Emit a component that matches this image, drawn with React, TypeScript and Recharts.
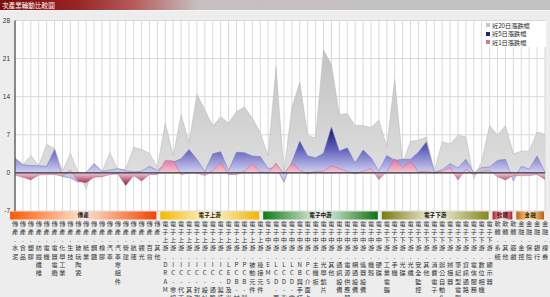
import React from 'react';
import { AreaChart, Area, XAxis, YAxis, CartesianGrid, ReferenceLine } from 'recharts';

// ---------- data ----------
const traditionalSubs = ['水泥','食品','塑膠','紡織纖維','電機','電器電纜','化學工業','生技','玻璃陶瓷','紙業','鋼鐵','橡膠','汽車','汽車零組件','營建','航運','觀光','百貨','其他'];
const upstreamSubs = ['DRAM','IC-零組件','IC-代工','IC-其他','IC-封測','IC-設計','IC-通路','IC-製造','LED及光元件','PCB-材料','PCB-製造','被動元件','連接元件'];
const midstreamSubs = ['EMS','LCD-面板','LCD-背光','LCD-零組件','NB與手持裝置','PC介面卡','主機板','光學鏡片','其他','通訊設備','電源供應器','網通設備','儀器設備','機殼','硬碟'];
const downstreamSubs = ['工業電腦','手機','光碟','光纖','安全監控','其他','消費電子','辦公自動化','掃描器','筆記型電腦','資訊通路','電信服務','數位相機','顯示器'];
const softwareSubs = ['系統','其他','遊戲'];
const financeSubs = ['金控','保險','銀行','證券'];

const groupNames = ['傳產','電子上游','電子中游','電子下游','軟體','金融'];
const groupSubs = [traditionalSubs, upstreamSubs, midstreamSubs, downstreamSubs, softwareSubs, financeSubs];

const change20 = [2.7,1.5,3.2,1.3,5.2,4.5,0.3,3.6,0.0,-2.9,1.7,0.2,3.7,0.6,0.7,4.7,4.3,3.6,1.0,
  9.2,3.1,10.7,5.5,14.4,11.6,8.6,10.3,9.1,11.3,12.1,10.1,7.4,
  3.1,19.4,0.0,12.0,16.6,6.9,6.4,22.6,19.9,10.7,10.9,8.7,8.7,8.3,9.7,
  4.8,17.2,1.8,5.8,6.0,6.6,0.3,5.7,5.3,6.9,6.6,-1.1,2.1,8.7,
  6.9,8.7,3.5,4.0,4.0,7.5,7.1];
const change5 = [2.7,1.5,1.35,1.3,1.2,4.3,-0.7,-0.9,-1.7,0.1,1.7,0.3,0.5,0.8,0.4,0.2,0.3,1.2,0.5,
  1.5,2.0,2.6,4.3,2.5,0.2,3.5,3.9,0.4,3.8,3.7,3.1,3.0,
  0.8,1.0,-1.7,2.0,5.8,3.1,2.8,3.6,8.4,4.0,4.6,1.8,4.2,2.8,0.3,
  3.2,2.3,2.5,2.5,3.8,5.7,0.1,0.6,1.7,0.9,2.5,0.0,1.0,1.1,
  2.3,2.5,-1.5,1.2,0.7,3.1,0.1];
const change1 = [-0.4,-0.8,-1.3,-0.4,-0.3,-0.3,-0.6,0.5,-1.6,-1.8,-0.8,-0.7,-0.3,-0.2,-2.3,-0.5,-1.5,-0.3,-0.3,
  2.3,2.2,-0.3,0.0,0.0,-0.5,0.4,1.9,-0.3,-0.3,0.3,1.7,0.2,
  0.0,1.8,-0.2,1.8,0.5,-0.2,0.3,0.3,1.3,0.8,0.3,-0.2,0.3,0.8,-1.2,
  0.2,2.6,1.0,2.1,0.2,0.3,0.0,0.3,1.0,-1.3,0.7,-0.3,0.3,0.4,
  -0.7,-1.3,-0.5,-0.5,-0.5,-0.3,-1.2];

const yTicks = [-7, 0, 7, 14, 21, 28];
const legendLabels = ['近20日漲跌幅', '近5日漲跌幅', '近1日漲跌幅'];
const titleText = '次產業輪動比較圖';

// ---------- derived ----------
const categories: string[] = [];
const catGroup: number[] = [];
groupSubs.forEach((subs, g) => subs.forEach((s) => { categories.push(groupNames[g] + '.' + s); catGroup.push(g); }));
const data = categories.map((name, i) => ({ name, d20: change20[i], d5: change5[i], d1: change1[i] }));

// ---------- layout / style ----------
const W = 550, H = 297;
const MARGIN = { top: 20.5, right: 5, bottom: 0, left: 0 };
const YAXIS_W = 15;
const XAXIS_H = 86;
const STEP = (W - MARGIN.left - MARGIN.right - YAXIS_W) / (categories.length - 1);

const bandColors = [
  ['#ff5a00', '#fde4d2', '#f24400'],
  ['#f5b800', '#fff6d6', '#f2b400'],
  ['#0f7a12', '#eef6ee', '#0c7412'],
  ['#7a7a12', '#f6f6e8', '#86861a'],
  ['#b01a2e', '#f7e6e8', '#b01a2e'],
  ['#c8640a', '#fbe8b0', '#c05c08'],
];
const bandTextColors = ['#222', '#222', '#111', '#111', '#5a0a10', '#3a1a00'];

const cjk = '"Noto Sans CJK TC", "Noto Sans CJK SC", sans-serif';

const zeroOffset = (arr: number[]) => {
  const mx = Math.max(...arr), mn = Math.min(...arr);
  return mx / (mx - mn);
};

function CategoryTick(props: any) {
  const { x, y, payload } = props;
  const i = categories.indexOf(payload.value);
  if (i < 0) return null;
  const g = catGroup[i];
  const isFirst = i === 0 || catGroup[i - 1] !== g;
  const n = groupSubs[g].length;
  const chars = Array.from(categories[i]);
  const x0 = x - STEP / 2 - 1;
  const x1 = x + (n - 0.5) * STEP - 5;
  return (
    <g>
      {isFirst && (
        <g>
          <rect x={x0} y={y + 0.5} width={x1 - x0} height={8} fill={`url(#band${g})`} />
          <text x={(x0 + x1) / 2} y={y + 4.3} textAnchor="middle" dominantBaseline="central"
            fontSize={5.6} fontFamily={cjk} fontWeight={700} fill={bandTextColors[g]}>{groupNames[g]}</text>
        </g>
      )}
      {chars.map((c, k) => (
        <text key={k} x={x} y={y + 12 + 8.33 * k} textAnchor="middle" dominantBaseline="central"
          fontSize={6.2} fontFamily={cjk} fill="#333">{c}</text>
      ))}
    </g>
  );
}

export default function App() {
  const z20 = zeroOffset(change20);
  const z5 = zeroOffset(change5);
  const z1 = zeroOffset(change1);
  return (
    <div style={{ position: 'absolute', left: 0, top: 0, width: W, height: H, overflow: 'hidden', background: '#ededed', fontFamily: cjk }}>
      <AreaChart width={W} height={H} data={data} margin={MARGIN}>
        <defs>
          <linearGradient id="g20" x1="0" y1="0" x2="0" y2="1">
            <stop offset="0" stopColor="#c2c2c2" />
            <stop offset={z20} stopColor="#dedede" />
            <stop offset="1" stopColor="#d4d4d4" />
          </linearGradient>
          <linearGradient id="g5" x1="0" y1="0" x2="0" y2="1">
            <stop offset="0" stopColor="#16166e" />
            <stop offset={z5 * 0.5} stopColor="#6464c0" />
            <stop offset={z5} stopColor="#d2d2f2" />
            <stop offset="1" stopColor="#b0b0e4" />
          </linearGradient>
          <linearGradient id="g1" x1="0" y1="0" x2="0" y2="1">
            <stop offset="0" stopColor="#e0729a" />
            <stop offset={z1} stopColor="#f4c8d8" />
            <stop offset="1" stopColor="#8a1242" />
          </linearGradient>
          {bandColors.map((c, g) => (
            <linearGradient key={g} id={`band${g}`} x1="0" y1="0" x2="1" y2="0">
              <stop offset="0" stopColor={c[0]} />
              <stop offset="0.5" stopColor={c[1]} />
              <stop offset="1" stopColor={c[2]} />
            </linearGradient>
          ))}
        </defs>
        <CartesianGrid fill="#ffffff" horizontal={false} vertical={false} />
        <XAxis dataKey="name" interval={0} height={XAXIS_H} tickSize={0} tickMargin={0}
          axisLine={false} tickLine={false} tick={<CategoryTick />} />
        <YAxis domain={[-7, 28]} ticks={yTicks} interval={0} width={YAXIS_W} tickSize={0} tickMargin={5}
          axisLine={{ stroke: '#555', strokeWidth: 1.3 }} tickLine={false} allowDataOverflow
          tick={{ fontSize: 6.5, fill: '#333', fontFamily: 'Liberation Sans, Arial, sans-serif' }} />
        <Area type="linear" dataKey="d20" stroke="#bcbcbc" strokeWidth={0.6} fill="url(#g20)" fillOpacity={1} isAnimationActive={false} />
        <Area type="linear" dataKey="d5" stroke="#7070c0" strokeWidth={0.5} fill="url(#g5)" fillOpacity={1} isAnimationActive={false} />
        <Area type="linear" dataKey="d1" stroke="#c66088" strokeWidth={0.5} fill="url(#g1)" fillOpacity={1} isAnimationActive={false} />
        <CartesianGrid stroke="#d8d8d8" fill="none" />
        <ReferenceLine y={0} stroke="#333" strokeWidth={1.3} />
      </AreaChart>
      <div style={{ position: 'absolute', left: 0, top: 0, width: W, height: 10,
        background: 'linear-gradient(90deg, #7a0c0c 0%, #982424 14%, #b55a5a 24%, #c6c0c0 36%, #c2c2c2 100%)' }}>
        <span style={{ position: 'absolute', left: 2, top: 1, fontSize: 6.6, lineHeight: '8px', color: '#fff' }}>{titleText}</span>
      </div>
      <div style={{ position: 'absolute', left: 0, top: 10, width: W, height: 1, background: '#f6f6f6' }} />
      <div style={{ position: 'absolute', left: 482, top: 20.5, width: 64, height: 26, background: '#fff' }}>
        {legendLabels.map((t, k) => (
          <div key={k} style={{ position: 'absolute', left: 4, top: 0.5 + k * 8.6, height: 8, display: 'flex', alignItems: 'center' }}>
            <div style={{ width: 4, height: 4, background: ['#c8c8c8', '#242480', '#d27a9e'][k], marginRight: 2 }} />
            <span style={{ fontSize: 6.2, color: '#222', lineHeight: '7px', whiteSpace: 'nowrap' }}>{t}</span>
          </div>
        ))}
      </div>
    </div>
  );
}
